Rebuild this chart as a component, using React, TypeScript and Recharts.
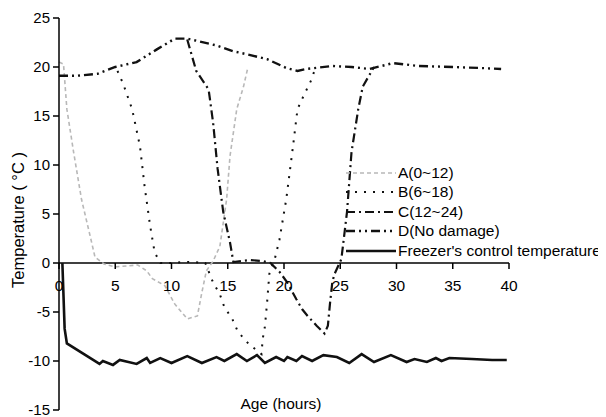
import { LineChart, Line, XAxis, YAxis, ReferenceLine, Legend } from "recharts";

// hours / °C
const aHours = [0, 0.4, 0.7, 1.3, 2, 2.8, 3.2, 4, 5, 6, 7, 7.8, 8.3, 9.4, 10.3, 11.4, 12.3, 12.7, 13.1, 13.7, 14.3, 14.9, 15.2, 15.8, 16.4, 16.8];
const aTemps = [20.5, 20.3, 15.7, 11.3, 6.5, 2.6, 0.6, -0.1, -0.4, -0.3, -0.2, -0.8, -1.6, -2.3, -4.2, -5.7, -5.4, -3, -0.8, 0.2, 1.7, 6.5, 10.9, 15.7, 18, 20];

const bHours = [5.2, 5.7, 6.5, 7.2, 7.6, 8.1, 8.5, 9, 10, 11, 12, 13, 13.7, 14.3, 14.7, 15.4, 15.9, 16.9, 18, 18.1, 18.3, 18.5, 18.6, 18.7, 19.2, 19.6, 20.2, 20.8, 21.2, 21.8, 22.4, 22.7];
const bTemps = [19.6, 18.3, 15.7, 11.9, 7.9, 3.8, 1.1, 0, 0, 0.1, 0.1, 0, -2, -3.2, -4.5, -5.7, -7, -8.3, -9.3, -7.8, -6.5, -4, -2.5, -1.1, 0.5, 2.4, 6.5, 11.9, 15.7, 17.2, 18.6, 19.6];

const cHours = [11.4, 12.2, 13.3, 13.7, 14.1, 14.6, 15.2, 15.5, 16.2, 17, 18.1, 18.8, 19.6, 20.3, 21.1, 21.6, 22.1, 22.9, 23.6, 23.9, 24.1, 24.3, 24.5, 25.1, 25.6, 26, 26.6, 27, 28];
const cTemps = [22.8, 19.6, 17.7, 14.3, 9.6, 5.2, 2.1, 0.1, 0.2, 0.3, 0.2, 0, -0.9, -2, -3.7, -4.7, -5.4, -6.4, -7.2, -6.4, -4, -1.9, -1.1, 0.4, 5.2, 11.3, 15.7, 18, 20];

const dHours = [0, 1.5, 3.4, 5, 6.9, 8.7, 10.3, 11.4, 12.5, 14, 15.5, 16.7, 18.5, 20.2, 21.2, 22, 24.3, 26, 27.6, 29.7, 32, 35, 37.4, 39.3];
const dTemps = [19.1, 19.1, 19.3, 20, 20.5, 21.8, 22.9, 22.9, 22.6, 22.2, 21.6, 21.3, 20.8, 19.9, 19.6, 19.8, 20.1, 20, 19.8, 20.4, 20.1, 20, 19.9, 19.8];

const fHours = [0.3, 0.5, 0.7, 3.6, 3.9, 4.8, 5.4, 6.9, 7.8, 8.1, 9, 10, 11.4, 12.7, 14, 14.7, 15.8, 16.7, 17.6, 18.3, 19.3, 20, 20.3, 21.1, 21.6, 22.5, 23.5, 24.7, 25.8, 26.9, 28, 29.5, 30.9, 31.6, 32.7, 33.5, 34, 34.7, 36.7, 38.5, 39.8];
const fTemps = [0, -6.7, -8.2, -10.3, -10, -10.4, -9.9, -10.3, -9.7, -10.2, -9.7, -10.2, -9.5, -10.2, -9.6, -10, -9.3, -10, -9.4, -10.2, -9.6, -10, -9.6, -10, -9.5, -10, -9.4, -9.6, -10.2, -9.3, -10.1, -9.4, -10.1, -9.8, -10.1, -9.7, -10, -9.7, -9.8, -9.9, -9.9];

const xTicks = [0, 5, 10, 15, 20, 25, 30, 35, 40];
const yTicks = [-15, -10, -5, 0, 5, 10, 15, 20, 25];

const zip = (h: number[], t: number[]) => h.map((hour, i) => ({ hour, temp: t[i] }));

const FONT = "'Liberation Sans', Arial, sans-serif";
const W = 598;
const H = 409;
const X_H = 1;
const M = { top: 10, right: 97, bottom: 6, left: 0 };
const Y_W = 51;
const PLOT_H = H - M.top - M.bottom - X_H;
const Y_MIN = -15;
const Y_MAX = 25;

const SERIES = [
  { key: "A", name: "A(0~12)", data: zip(aHours, aTemps), stroke: "#b8b8b8", width: 1.6, dash: "4 3" },
  { key: "B", name: "B(6~18)", data: zip(bHours, bTemps), stroke: "#111", width: 2, dash: "2 7" },
  { key: "C", name: "C(12~24)", data: zip(cHours, cTemps), stroke: "#111", width: 2.2, dash: "9 4 2 4" },
  { key: "D", name: "D(No damage)", data: zip(dHours, dTemps), stroke: "#111", width: 2.4, dash: "9 4 2 4 2 4" },
  { key: "F", name: "Freezer's control temperature", data: zip(fHours, fTemps), stroke: "#111", width: 2.6, dash: undefined },
];

const XTick = ({ x, y, payload }: any) => {
  // axis sits at y = 0, not at the plot bottom
  const zeroY = y - (PLOT_H * (0 - Y_MIN)) / (Y_MAX - Y_MIN);
  return (
    <g>
      <line x1={x} x2={x} y1={zeroY} y2={zeroY + 6} stroke="#000" strokeWidth={1.5} />
      <text x={x} y={zeroY + 22} textAnchor="middle" dominantBaseline="central" fontSize={15.5} fontFamily={FONT} fill="#000">
        {payload.value}
      </text>
    </g>
  );
};

const AgeLabel = ({ viewBox }: any) => (
  <text x={viewBox.x + viewBox.width / 2 - 3} y={viewBox.y - 7} textAnchor="middle" dominantBaseline="central" fontSize={15.5} fontFamily={FONT} fill="#000">
    Age (hours)
  </text>
);

const LegendBox = () => (
  <div style={{ fontFamily: FONT, fontSize: 15.5, color: "#000", whiteSpace: "nowrap" }}>
    {SERIES.map((s) => (
      <div key={s.key} style={{ display: "flex", alignItems: "center", height: 19.5 }}>
        <svg width={52} height={10} style={{ marginRight: 1 }}>
          <line x1={1} x2={51} y1={5} y2={5} stroke={s.stroke} strokeWidth={s.width} strokeDasharray={s.dash} />
        </svg>
        <span>{s.name}</span>
      </div>
    ))}
  </div>
);

export default function App() {
  const cy = 212;
  const lx = 10;
  return (
    <LineChart width={W} height={H} margin={M}>
      <XAxis
        dataKey="hour"
        type="number"
        domain={[0, 40]}
        ticks={xTicks}
        interval={0}
        height={X_H}
        tickSize={0}
        tickMargin={0}
        tickLine={false}
        axisLine={false}
        tick={<XTick />}
        label={{ content: <AgeLabel /> }}
      />
      <YAxis
        type="number"
        domain={[Y_MIN, Y_MAX]}
        ticks={yTicks}
        interval={0}
        width={Y_W}
        tickSize={6}
        tickMargin={3}
        axisLine={{ stroke: "#000", strokeWidth: 1.5 }}
        tickLine={{ stroke: "#000", strokeWidth: 1.5 }}
        tick={{ fontSize: 15, fontFamily: FONT, fill: "#000" }}
        label={{
          content: () => (
            <text x={lx} y={cy} transform={`rotate(-90, ${lx}, ${cy})`} textAnchor="middle" dominantBaseline="central" fontSize={16.5} fontFamily={FONT} fill="#000">
              Temperature ( °C )
            </text>
          ),
        }}
      />
      <ReferenceLine y={0} stroke="#000" strokeWidth={1.5} />
      {SERIES.map((s) => (
        <Line
          key={s.key}
          data={s.data}
          dataKey="temp"
          name={s.name}
          type="linear"
          stroke={s.stroke}
          strokeWidth={s.width}
          strokeDasharray={s.dash}
          dot={false}
          activeDot={false}
          isAnimationActive={false}
        />
      ))}
      <Legend
        layout="vertical"
        align="center"
        verticalAlign="middle"
        content={<LegendBox />}
        wrapperStyle={{ left: 337, top: 155, width: "auto" }}
      />
    </LineChart>
  );
}
